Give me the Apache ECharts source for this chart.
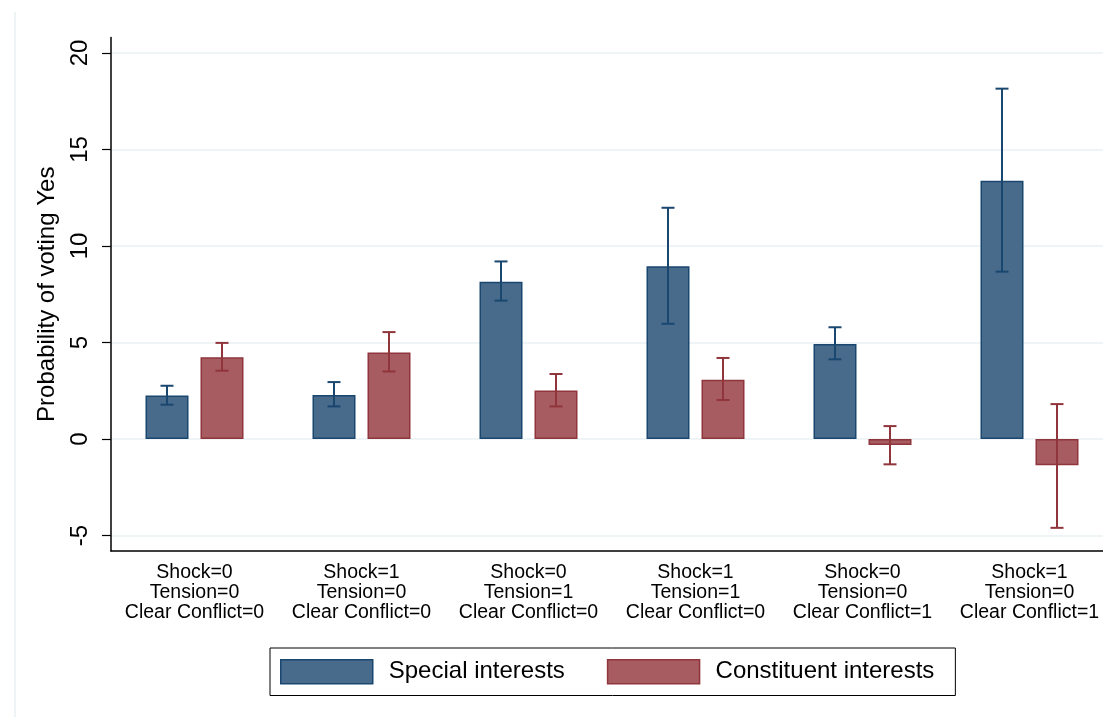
<!DOCTYPE html>
<html>
<head>
<meta charset="utf-8">
<title>Probability of voting Yes</title>
<style>
    html, body { margin: 0; padding: 0; background: #fff; }
    #mains { width: 1103px; height: 717px; }
</style>
</head>
<body>
<div id="mains"></div>
<script src="https://cdn.jsdelivr.net/npm/echarts@6/dist/echarts.min.js"></script>
<script>
    // categories (x axis)
    var categories = [
        'Shock=0\nTension=0\nClear Conflict=0',
        'Shock=1\nTension=0\nClear Conflict=0',
        'Shock=0\nTension=1\nClear Conflict=0',
        'Shock=1\nTension=1\nClear Conflict=0',
        'Shock=0\nTension=0\nClear Conflict=1',
        'Shock=1\nTension=0\nClear Conflict=1'
    ];
    var yTicks = [-5, 0, 5, 10, 15, 20];

    // Special interests: estimate + confidence interval
    var special = [2.26, 2.28, 8.15, 8.95, 4.92, 13.38];
    var specialLo = [1.78, 1.69, 7.17, 5.97, 4.13, 8.67];
    var specialHi = [2.76, 2.95, 9.20, 11.98, 5.79, 18.15];

    // Constituent interests: estimate + confidence interval
    var constituent = [4.24, 4.48, 2.52, 3.07, -0.31, -1.36];
    var constituentLo = [3.54, 3.50, 1.69, 2.02, -1.31, -4.60];
    var constituentHi = [4.98, 5.54, 3.37, 4.20, 0.67, 1.81];

    var BAR_W = 43, BAR_GAP = 12, CAP = 13;
    var blue = '#486a8b', blueLine = '#1a476f';
    var red = '#a65c60', redLine = '#90353b';

    function ciData(lo, hi) {
        var out = [];
        for (var i = 0; i < lo.length; i++) {
            out.push([i, lo[i], hi[i]]);
        }
        return out;
    }

    // error bars, shifted to sit on the left / right bar of each group
    function errorBar(offset, color) {
        return function (params, api) {
            var x = api.coord([api.value(0), 0])[0] + offset;
            var lo = api.coord([api.value(0), api.value(1)])[1];
            var hi = api.coord([api.value(0), api.value(2)])[1];
            var st = { stroke: color, lineWidth: 2 };
            return {
                type: 'group',
                children: [
                    { type: 'line', shape: { x1: x, y1: lo, x2: x, y2: hi }, style: st },
                    { type: 'line', shape: { x1: x - CAP / 2, y1: hi, x2: x + CAP / 2, y2: hi }, style: st },
                    { type: 'line', shape: { x1: x - CAP / 2, y1: lo, x2: x + CAP / 2, y2: lo }, style: st }
                ]
            };
        };
    }

    var myChart = echarts.init(document.getElementById('mains'));
    var font = 'Liberation Sans, Arial, sans-serif';
    var off = (BAR_W + BAR_GAP) / 2;

    myChart.setOption({
        backgroundColor: '#fff',
        animation: false,
        textStyle: { fontFamily: font },
        graphic: [{
            type: 'line',
            shape: { x1: 15, y1: 12, x2: 15, y2: 717 },
            style: { stroke: '#e8f0f2', lineWidth: 1.5 }
        }],
        grid: {
            left: 111,
            top: 37.5,
            width: 1002,
            bottom: 166,
            containLabel: false,
            outerBoundsMode: 'none'
        },
        legend: {
            left: 270,
            top: 648,
            orient: 'horizontal',
            itemWidth: 92,
            itemHeight: 24,
            itemGap: 42,
            padding: [11, 21, 11, 10],
            borderColor: '#000',
            borderWidth: 1,
            icon: 'rect',
            textStyle: { fontSize: 24, color: '#000', fontFamily: font, padding: [0, 0, 0, 11] },
            data: [
                { name: 'Special interests', itemStyle: { color: blue, borderColor: blueLine, borderWidth: 1.5 } },
                { name: 'Constituent interests', itemStyle: { color: red, borderColor: redLine, borderWidth: 1.5 } }
            ]
        },
        xAxis: {
            type: 'category',
            data: categories,
            axisLine: { onZero: false, lineStyle: { color: '#000', width: 1.5 } },
            axisTick: { alignWithLabel: true, length: 9, lineStyle: { color: '#000', width: 1.2 } },
            axisLabel: {
                interval: 0,
                margin: 12,
                fontSize: 19.5,
                lineHeight: 20,
                color: '#000',
                fontFamily: font
            }
        },
        yAxis: {
            type: 'value',
            min: -5.8,
            max: 20.8,
            name: 'Probability of voting Yes',
            nameLocation: 'middle',
            nameRotate: 90,
            nameGap: 52,
            nameTextStyle: { fontSize: 24, color: '#000', fontFamily: font },
            axisLine: { show: true, lineStyle: { color: '#000', width: 1.5 } },
            axisTick: { show: true, length: 9, customValues: yTicks, lineStyle: { color: '#000', width: 1.2 } },
            axisLabel: {
                rotate: 90,
                margin: 19,
                fontSize: 24,
                color: '#000',
                fontFamily: font,
                customValues: yTicks
            },
            splitLine: { show: true, lineStyle: { color: '#eaf2f3', width: 1.5 } }
        },
        series: [
            {
                name: 'Special interests',
                type: 'bar',
                barWidth: BAR_W,
                barGap: (BAR_GAP / BAR_W * 100) + '%',
                itemStyle: { color: blue, borderColor: blueLine, borderWidth: 1.5 },
                data: special
            },
            {
                name: 'Constituent interests',
                type: 'bar',
                barWidth: BAR_W,
                itemStyle: { color: red, borderColor: redLine, borderWidth: 1.5 },
                data: constituent
            },
            {
                name: 'special_ci',
                type: 'custom',
                renderItem: errorBar(-off, blueLine),
                encode: { x: 0, y: [1, 2] },
                z: 5,
                data: ciData(specialLo, specialHi)
            },
            {
                name: 'constituent_ci',
                type: 'custom',
                renderItem: errorBar(off, redLine),
                encode: { x: 0, y: [1, 2] },
                z: 5,
                data: ciData(constituentLo, constituentHi)
            }
        ]
    });
</script>
</body>
</html>
